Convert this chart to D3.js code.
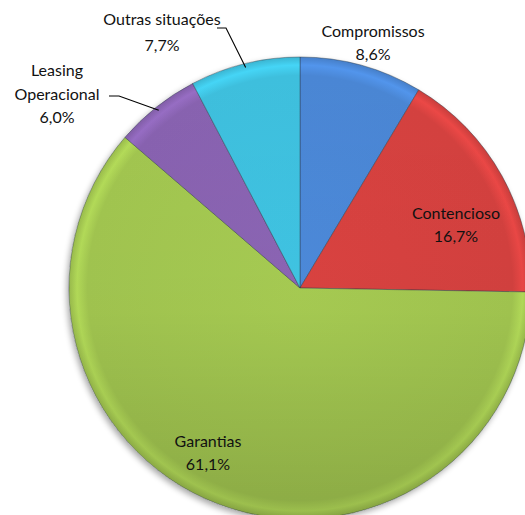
<!DOCTYPE html>
<html>
<head>
<meta charset="utf-8">
<script src="https://cdn.jsdelivr.net/npm/d3@7"></script>
<style>
  html, body { margin: 0; padding: 0; background: #fff; }
  svg { display: block; }
  text { font-family: Lato, "Open Sans", sans-serif; font-size: 16px; fill: #111; }
</style>
</head>
<body>
<svg id="chart" width="525" height="515"></svg>
<script>
// Slice categories, shares (%) and fills, clockwise from 12 o'clock
const categories = ["Compromissos", "Contencioso", "Garantias", "Leasing Operacional", "Outras situações"];
const shares = [8.6, 16.7, 61.1, 6.0, 7.7];
const shareLabels = ["8,6%", "16,7%", "61,1%", "6,0%", "7,7%"];
const colors = ["#4a86d4", "#d4413f", "#a2c650", "#8862b0", "#3ebfdd"];

const svg = d3.select("#chart");
const cx = 300, cy = 288, R = 231;

const defs = svg.append("defs");
defs.append("filter").attr("id", "shadow")
  .attr("x", "-20%").attr("y", "-20%").attr("width", "140%").attr("height", "140%")
  .html('<feGaussianBlur in="SourceAlpha" stdDeviation="3"/><feOffset dx="-2" dy="3" result="b"/>' +
        '<feComponentTransfer><feFuncA type="linear" slope="0.35"/></feComponentTransfer>' +
        '<feMerge><feMergeNode/><feMergeNode in="SourceGraphic"/></feMerge>');

// Radial bevel gradient for each slice: flat body, lighter rim, darker lip
colors.forEach((c, i) => {
  const base = d3.color(c);
  const g = defs.append("radialGradient").attr("id", "grad" + i)
    .attr("gradientUnits", "userSpaceOnUse")
    .attr("cx", 0).attr("cy", 0).attr("r", R);
  g.append("stop").attr("offset", "0%").attr("stop-color", base.brighter(0.1));
  g.append("stop").attr("offset", "92%").attr("stop-color", base);
  g.append("stop").attr("offset", "96.5%").attr("stop-color", base.brighter(0.3));
  g.append("stop").attr("offset", "100%").attr("stop-color", base.darker(0.15));
});

// Soft top-to-bottom shading laid over the whole disc
const shade = defs.append("linearGradient").attr("id", "shade")
  .attr("x1", 0).attr("y1", 0).attr("x2", 0).attr("y2", 1);
shade.append("stop").attr("offset", "0%").attr("stop-color", "#000").attr("stop-opacity", 0);
shade.append("stop").attr("offset", "55%").attr("stop-color", "#000").attr("stop-opacity", 0.02);
shade.append("stop").attr("offset", "100%").attr("stop-color", "#000").attr("stop-opacity", 0.14);

const data = categories.map((c, i) => ({ name: c, value: shares[i], label: shareLabels[i], idx: i }));
const pie = d3.pie().sort(null).value(d => d.value);
const arc = d3.arc().innerRadius(0).outerRadius(R);

const g = svg.append("g").attr("transform", `translate(${cx},${cy})`);
const arcs = pie(data);

g.append("circle").attr("r", R).attr("fill", "#fff").attr("filter", "url(#shadow)");

g.selectAll("path.slice").data(arcs).join("path")
  .attr("class", "slice")
  .attr("d", arc)
  .attr("fill", d => `url(#grad${d.data.idx})`)
  .attr("stroke", "#2c3a44")
  .attr("stroke-opacity", 0.55)
  .attr("stroke-width", 0.8);

g.append("circle").attr("r", R).attr("fill", "url(#shade)").attr("pointer-events", "none");

// Label positions (one y per text line) and leader-line elbows
const labelPos = {
  "Compromissos": { x: 373, y: [37, 60] },
  "Contencioso": { x: 456, y: [219, 242] },
  "Garantias": { x: 208, y: [447, 470] },
  "Leasing Operacional": { x: 57, y: [76, 100, 123], lines: ["Leasing", "Operacional"] },
  "Outras situações": { x: 162, y: [25, 51] }
};
const leaders = {
  "Leasing Operacional": [[109, 96], [119, 96]],
  "Outras situações": [[217, 28], [226, 28]]
};

data.forEach((d, i) => {
  const p = labelPos[d.name];
  const lines = (p.lines || [d.name]).concat([d.label]);
  const t = svg.append("text").attr("text-anchor", "middle");
  lines.forEach((ln, k) => {
    t.append("tspan").attr("x", p.x).attr("y", p.y[k]).text(ln);
  });
  if (leaders[d.name]) {
    const a = arcs[i];
    const mid = (a.startAngle + a.endAngle) / 2;
    const edge = [cx + Math.sin(mid) * (R - 4), cy - Math.cos(mid) * (R - 4)];
    const pts = leaders[d.name].concat([edge]);
    svg.append("path")
      .attr("d", d3.line()(pts))
      .attr("fill", "none").attr("stroke", "#000").attr("stroke-width", 1.1);
  }
});
</script>
</body>
</html>
